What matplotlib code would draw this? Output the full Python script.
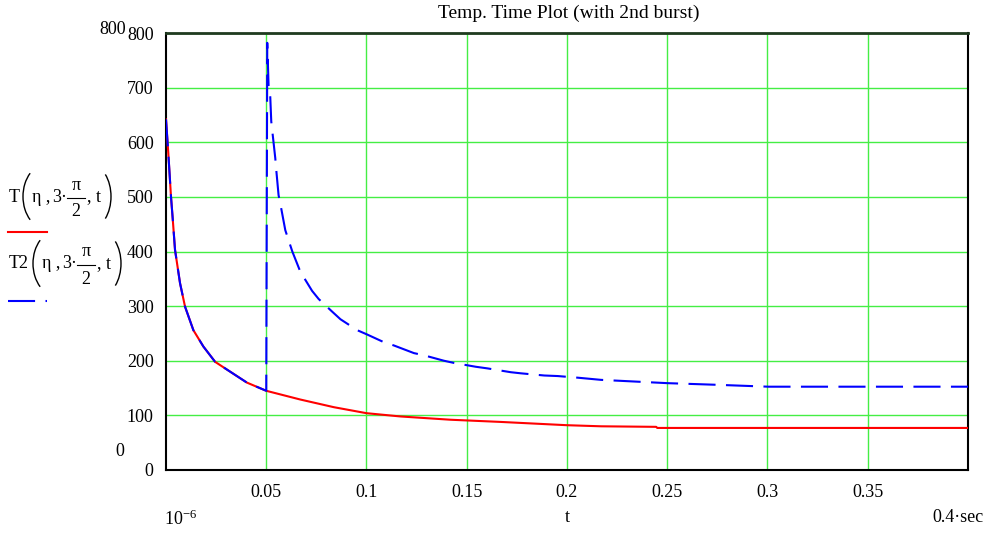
import matplotlib
matplotlib.use("Agg")
import matplotlib.pyplot as plt
from matplotlib.lines import Line2D
from matplotlib.patches import Arc
from matplotlib.transforms import IdentityTransform

plt.rcParams['font.family'] = ['Liberation Serif', 'DejaVu Serif']
plt.rcParams['mathtext.fontset'] = 'custom'
plt.rcParams['mathtext.rm'] = 'Liberation Serif'
plt.rcParams['mathtext.it'] = 'Liberation Serif'

# -----------------------------
# Temperature data (first burst only)
# -----------------------------
t1 = [1e-6, 0.00115, 0.0025, 0.00335, 0.0045, 0.007, 0.0095, 0.01365,
      0.01865, 0.0245, 0.032, 0.04035, 0.05, 0.067, 0.0837, 0.1, 0.117,
      0.142, 0.167, 0.2, 0.217, 0.2445, 0.245, 0.4]
T1 = [642, 580, 500, 460, 403, 342, 299, 256,
      226, 198, 180, 160, 145, 129, 115, 104, 98,
      92, 88, 82, 80, 79, 77, 77]

# second burst at t = 0.05 s
t2_burst = [0.0505, 0.05115, 0.052, 0.0525, 0.05315, 0.0545, 0.055, 0.05615,
            0.057, 0.0595, 0.063, 0.067, 0.07285, 0.07615, 0.08285, 0.087,
            0.09535, 0.10035, 0.10865, 0.11365, 0.12365, 0.12865, 0.13865,
            0.14365, 0.1545, 0.16035, 0.172, 0.177, 0.18865, 0.19535,
            0.20535, 0.217, 0.25, 0.2745, 0.3005, 0.4]
T2_burst = [782, 705, 683, 638, 616, 571, 549, 503,
            488, 439, 400, 363, 328, 313, 290, 276,
            256, 248, 234, 228, 214, 210, 200,
            196, 189, 186, 179, 177, 173, 172,
            169, 165, 159, 156, 152.5, 152.5]

# T2 follows T until the burst
t2 = [t for t in t1 if t <= 0.05] + t2_burst
T2 = [v for t, v in zip(t1, T1) if t <= 0.05] + T2_burst

x_ticks = [0.05, 0.1, 0.15, 0.2, 0.25, 0.3, 0.35]
x_tick_labels = ['0.05', '0.1', '0.15', '0.2', '0.25', '0.3', '0.35']
y_ticks = [0, 100, 200, 300, 400, 500, 600, 700, 800]

W, H = 985, 533
FS = 13


def px(x, y):
    return x / W, 1 - y / H


def paren(x_left, x_right, y_top, y_bot, opening):
    # thin bracket drawn as an elliptic arc, in pixels
    yc = (y_top + y_bot) / 2
    a = (x_right - x_left) / 0.426
    b = (y_bot - y_top) / 2 / 0.819
    if opening:
        cx, th1, th2 = x_left + a, 125, 235
    else:
        cx, th1, th2 = x_right - a, -55, 55
    fig.add_artist(Arc((cx, H - yc), 2 * a, 2 * b, theta1=th1, theta2=th2,
                       transform=IdentityTransform(), color='black', lw=1.0))


def legend_label(x0, p, yc, name):
    # "name(eta, 3*pi/2, t)" laid out piece by piece
    def put(x, y, s):
        fig.text(*px(x, y), s, ha='center', va='center', fontsize=FS)

    fig.text(*px(x0, yc), name, ha='left', va='center', fontsize=FS)
    paren(p + 1, p + 11, yc - 27, yc + 26, True)
    put(p + 19, yc, '\u03b7 ,')
    put(p + 38, yc, '3\u00b7')
    put(p + 54, yc - 12, '\u03c0')
    put(p + 54, yc + 15, '2')
    fig.add_artist(Line2D([(p + 45) / W, (p + 63) / W], [1 - (yc + 1) / H] * 2,
                          color='black', lw=0.8))
    put(p + 72, yc, ', t')
    paren(p + 80, p + 89, yc - 27, yc + 26, False)


fig = plt.figure(figsize=(W / 100, H / 100), dpi=100)
ax = fig.add_axes([166 / W, 1 - 470 / H, (968 - 166) / W, (470 - 33) / H])

ax.plot(t1, T1, color='red', lw=1.5, zorder=3)
ax.plot(t2, T2, color='blue', lw=1.5, ls=(0, (13, 5)), zorder=4)

ax.set_xlim(1e-6, 0.4)
ax.set_ylim(0, 800)
ax.set_xticks(x_ticks)
ax.set_xticklabels(x_tick_labels)
ax.set_yticks(y_ticks)
ax.tick_params(length=0, labelsize=FS)
ax.tick_params(axis='x', pad=10)
ax.tick_params(axis='y', pad=9)
ax.grid(True, color='#44ee44', lw=1.0, zorder=1)

for side in ['left', 'bottom', 'right']:
    ax.spines[side].set_color('black')
    ax.spines[side].set_linewidth(1.5)
ax.spines['top'].set_color('#1f3a1f')
ax.spines['top'].set_linewidth(2)

# title and axis limit labels
fig.text(*px(569, 13), 'Temp. Time Plot (with 2nd burst)', ha='center', va='center', fontsize=14)
fig.text(*px(99, 30), '800', ha='left', va='center', fontsize=FS)
fig.text(*px(115, 452), '0', ha='left', va='center', fontsize=FS)
fig.text(*px(164, 519), r'$10^{-6}$', ha='left', va='center', fontsize=FS)
fig.text(*px(567, 518), 't', ha='center', va='center', fontsize=FS)
fig.text(*px(984, 518), '0.4\u00b7sec', ha='right', va='center', fontsize=FS)

# legend
legend_label(9, 22, 197, 'T')
legend_label(9, 32, 264, 'T2')
fig.add_artist(Line2D([8 / W, 47 / W], [1 - 232 / H] * 2, color='red', lw=1.5))
fig.add_artist(Line2D([8 / W, 47 / W], [1 - 301 / H] * 2, color='blue', lw=1.5,
                      ls=(0, (13, 5))))

fig.savefig('out.png', dpi=100)
